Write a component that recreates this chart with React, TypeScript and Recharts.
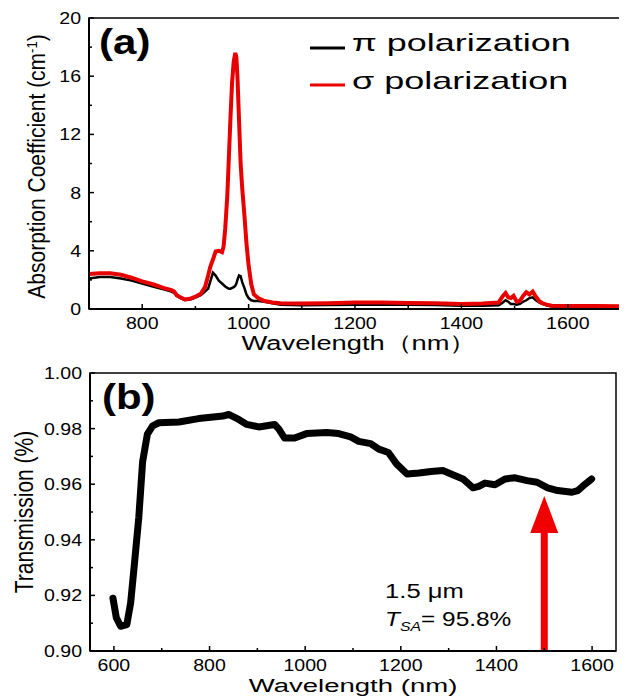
import React from 'react';
import { LineChart, Line, XAxis, YAxis, ReferenceArea, ReferenceLine, ReferenceDot, Legend } from 'recharts';

// (a) absorption spectra
const absWavelength = [700, 720, 740, 760, 780, 800, 820, 840, 855, 860, 865, 872, 880, 890, 900, 910, 918, 924, 928, 933, 938, 944, 950, 953, 956, 960, 963, 966, 969, 972, 975, 977, 979, 982, 985, 988, 992, 996, 1000, 1005, 1010, 1018, 1030, 1045, 1060, 1100, 1150, 1200, 1250, 1300, 1350, 1400, 1440, 1470, 1478, 1483, 1488, 1493, 1498, 1504, 1510, 1516, 1522, 1528, 1534, 1540, 1546, 1552, 1560, 1570, 1600, 1650, 1700];
const piAbs = [2.1, 2.2, 2.2, 2.1, 1.95, 1.75, 1.55, 1.35, 1.2, 1.1, 0.9, 0.75, 0.62, 0.65, 0.78, 0.95, 1.2, 1.4, 1.9, 2.5, 2.3, 1.95, 1.75, 1.65, 1.55, 1.45, 1.4, 1.4, 1.45, 1.5, 1.6, 1.75, 2.0, 2.3, 2.25, 1.85, 1.45, 1.0, 0.75, 0.6, 0.55, 0.55, 0.5, 0.4, 0.3, 0.25, 0.28, 0.3, 0.3, 0.3, 0.28, 0.22, 0.22, 0.25, 0.45, 0.6, 0.5, 0.35, 0.35, 0.3, 0.35, 0.5, 0.6, 0.75, 0.8, 0.6, 0.45, 0.35, 0.25, 0.18, 0.15, 0.15, 0.15];
const sigmaAbs = [2.4, 2.45, 2.45, 2.35, 2.15, 1.9, 1.7, 1.45, 1.3, 1.2, 0.95, 0.8, 0.65, 0.7, 0.85, 1.05, 1.5, 2.3, 2.9, 3.4, 3.95, 4.0, 3.9, 4.3, 5.5, 7.8, 10.5, 13.2, 15.6, 17.0, 17.6, 17.3, 16.0, 13.0, 10.0, 8.3, 6.5, 4.5, 3.0, 1.7, 1.0, 0.75, 0.55, 0.45, 0.4, 0.38, 0.4, 0.45, 0.45, 0.42, 0.4, 0.35, 0.38, 0.45, 0.9, 1.1, 0.8, 0.75, 0.9, 0.5, 0.55, 0.9, 1.15, 1.0, 1.2, 0.85, 0.55, 0.4, 0.3, 0.22, 0.2, 0.2, 0.18];
const absTicksX = [800, 900, 1000, 1100, 1200, 1300, 1400, 1500, 1600];
const absTicksY = [0, 2, 4, 6, 8, 10, 12, 14, 16, 18, 20];

// (b) transmission
const transWavelength = [598, 605, 614, 627, 635, 643, 652, 660, 670, 681, 694, 736, 777, 828, 840, 861, 878, 903, 936, 945, 957, 978, 1003, 1045, 1070, 1095, 1112, 1137, 1154, 1174, 1191, 1213, 1238, 1263, 1288, 1305, 1330, 1351, 1363, 1376, 1397, 1418, 1439, 1464, 1485, 1507, 1528, 1558, 1570, 1586, 1599];
const transmission = [0.919, 0.912, 0.9089, 0.9095, 0.9173, 0.9315, 0.948, 0.968, 0.978, 0.981, 0.9821, 0.9824, 0.9836, 0.9845, 0.9851, 0.9833, 0.9815, 0.9806, 0.9815, 0.9798, 0.9766, 0.9766, 0.9782, 0.9786, 0.9782, 0.977, 0.9754, 0.9746, 0.9726, 0.9714, 0.9673, 0.9637, 0.964, 0.9646, 0.9649, 0.9637, 0.9619, 0.9587, 0.9592, 0.9604, 0.9598, 0.9619, 0.9623, 0.9613, 0.9607, 0.9587, 0.9577, 0.9571, 0.9577, 0.9601, 0.9619];
const transTicksX = [600, 700, 800, 900, 1000, 1100, 1200, 1300, 1400, 1500, 1600];
const transTicksY = [0.9, 0.91, 0.92, 0.93, 0.94, 0.95, 0.96, 0.97, 0.98, 0.99, 1.0];

const absData = absWavelength.map((wl, i) => ({ wl, pi: piAbs[i], sigma: sigmaAbs[i] }));
const transData = transWavelength.map((wl, i) => ({ wl, t: transmission[i] }));

const FONT = '"Liberation Sans", Arial, sans-serif';

const WideText = ({ x, y, sx = 1, size, anchor = 'start', weight = 'normal', rotate = 0, children }: any) => (
  <text
    transform={`translate(${x},${y}) scale(${sx},1)${rotate ? ` rotate(${rotate})` : ''}`}
    textAnchor={anchor}
    fontSize={size}
    fontWeight={weight}
    fontFamily={FONT}
    fill="#000"
  >
    {children}
  </text>
);

// inward ticks, labels only on the major ones
const makeXTick = (isMajor: (v: number) => boolean) => (props: any) => {
  const { x, y, payload } = props;
  const major = isMajor(payload.value);
  return (
    <g>
      <line x1={x} x2={x} y1={y} y2={y - (major ? 5 : 3)} stroke="#000" strokeWidth={1.5} />
      {major && <WideText x={x} y={y + 20} sx={1.15} size={17} anchor="middle">{payload.value}</WideText>}
    </g>
  );
};

const makeYTick = (isMajor: (v: number) => boolean, fmt: (v: number) => string) => (props: any) => {
  const { x, y, payload } = props;
  const major = isMajor(payload.value);
  return (
    <g>
      <line x1={x} x2={x + (major ? 5 : 3)} y1={y} y2={y} stroke="#000" strokeWidth={1.5} />
      {major && <WideText x={x - 8} y={y + 6} sx={1.15} size={17} anchor="end">{fmt(payload.value)}</WideText>}
    </g>
  );
};

const PolLegend = ({ payload }: any) => (
  <svg width={320} height={90}>
    {(payload || []).map((e: any, i: number) => (
      <g key={i}>
        <line x1={10} x2={45} y1={33 + i * 37} y2={33 + i * 37} stroke={e.color} strokeWidth={3} />
        <WideText x={52} y={36 + i * 38} sx={1.5} size={24}>{e.value}</WideText>
      </g>
    ))}
  </svg>
);

const Arrow = (p: any) => {
  const { x1, y1, x2, y2 } = p;
  const head = 37;
  return (
    <g>
      <line x1={x1} x2={x2} y1={y1} y2={y2 + head - 2} stroke="#f00000" strokeWidth={7} />
      <polygon points={`${x2},${y2} ${x2 - 14},${y2 + head} ${x2 + 14},${y2 + head}`} fill="#f00000" />
    </g>
  );
};

export default function App() {
  return (
    <div style={{ position: 'relative', width: 627, height: 700, marginLeft: -8, marginTop: -8, background: '#fff' }}>
      <div style={{ position: 'absolute', left: 0, top: 0 }}>
        <LineChart width={627} height={360} data={absData} margin={{ top: 18, right: 6, bottom: 0, left: 0 }}>
          <XAxis
            dataKey="wl"
            type="number"
            domain={[700, 1700]}
            ticks={absTicksX}
            interval={0}
            height={51}
            tickSize={0}
            tickMargin={0}
            tickLine={false}
            axisLine={{ stroke: '#000', strokeWidth: 2 }}
            tick={makeXTick((v) => v % 200 === 0)}
            label={{
              content: (p: any) => (
                <WideText x={p.viewBox.x + p.viewBox.width / 2 + 4} y={p.viewBox.y + 41} sx={1.3} size={21} anchor="middle">
                  Wavelength（nm）
                </WideText>
              ),
            }}
          />
          <YAxis
            type="number"
            domain={[0, 20]}
            ticks={absTicksY}
            interval={0}
            width={89}
            tickSize={0}
            tickMargin={0}
            tickLine={false}
            axisLine={{ stroke: '#000', strokeWidth: 2 }}
            tick={makeYTick((v) => v % 4 === 0, (v) => String(v))}
            label={{
              content: (p: any) => (
                <WideText x={45} y={p.viewBox.y + p.viewBox.height / 2 + 3} sx={1.1} size={21} anchor="middle" rotate={-90}>
                  Absorption Coefficient (cm<tspan fontSize={13} dy={-7}>-1</tspan><tspan dy={7}>)</tspan>
                </WideText>
              ),
            }}
          />
          <ReferenceArea x1={700} x2={1700} y1={0} y2={20} fill="none" stroke="#000" strokeWidth={1.5} ifOverflow="visible" />
          <ReferenceDot
            x={719}
            y={17.5}
            ifOverflow="visible"
            shape={(p: any) => <WideText x={p.cx} y={p.cy} sx={1.2} size={35} weight="bold">(a)</WideText>}
          />
          <Legend
            layout="horizontal"
            verticalAlign="middle"
            align="center"
            wrapperStyle={{ top: 15, left: 300, width: 320 }}
            content={PolLegend}
          />
          <Line type="linear" dataKey="pi" name="π polarization" stroke="#000" strokeWidth={2.5} dot={false} isAnimationActive={false} />
          <Line type="linear" dataKey="sigma" name="σ polarization" stroke="#e80000" strokeWidth={4} dot={false} isAnimationActive={false} />
        </LineChart>
      </div>

      <div style={{ position: 'absolute', left: 0, top: 350 }}>
        <LineChart width={627} height={350} data={transData} margin={{ top: 23, right: 11, bottom: 0, left: 0 }}>
          <XAxis
            dataKey="wl"
            type="number"
            domain={[550, 1650]}
            ticks={transTicksX}
            interval={0}
            height={49}
            tickSize={0}
            tickMargin={0}
            tickLine={false}
            axisLine={{ stroke: '#000', strokeWidth: 2 }}
            tick={makeXTick((v) => v % 200 === 0)}
            label={{
              content: (p: any) => (
                <WideText x={p.viewBox.x + p.viewBox.width / 2} y={p.viewBox.y + 41} sx={1.45} size={19} anchor="middle">
                  Wavelength (nm)
                </WideText>
              ),
            }}
          />
          <YAxis
            type="number"
            domain={[0.9, 1.0]}
            ticks={transTicksY}
            interval={0}
            width={90}
            tickSize={0}
            tickMargin={0}
            tickLine={false}
            axisLine={{ stroke: '#000', strokeWidth: 2 }}
            tick={makeYTick((v) => Math.round(v * 100) % 2 === 0, (v) => v.toFixed(2))}
            label={{
              content: (p: any) => (
                <WideText x={33} y={p.viewBox.y + p.viewBox.height / 2} sx={1.25} size={21} anchor="middle" rotate={-90}>
                  Transmission (%)
                </WideText>
              ),
            }}
          />
          <ReferenceArea x1={550} x2={1650} y1={0.9} y2={1.0} fill="none" stroke="#000" strokeWidth={1.5} ifOverflow="visible" />
          <ReferenceDot
            x={575}
            y={0.987}
            ifOverflow="visible"
            shape={(p: any) => <WideText x={p.cx} y={p.cy} sx={1.2} size={35} weight="bold">(b)</WideText>}
          />
          <Line type="linear" dataKey="t" stroke="#000" strokeWidth={7} strokeLinejoin="round" strokeLinecap="round" dot={false} isAnimationActive={false} />
          <ReferenceLine
            segment={[{ x: 1500, y: 0.9 }, { x: 1500, y: 0.9558 }]}
            ifOverflow="visible"
            shape={Arrow}
          />
          <ReferenceDot
            x={1167}
            y={0.919}
            ifOverflow="visible"
            shape={(p: any) => (
              <g>
                <WideText x={p.cx} y={p.cy} sx={1.22} size={21}>1.5 μm</WideText>
                <WideText x={p.cx} y={p.cy + 28} sx={1.22} size={20}>
                  <tspan fontStyle="italic">T</tspan>
                  <tspan fontStyle="italic" fontSize={13} dy={5}>SA</tspan>
                  <tspan dy={-5}>= 95.8%</tspan>
                </WideText>
              </g>
            )}
          />
        </LineChart>
      </div>
    </div>
  );
}
